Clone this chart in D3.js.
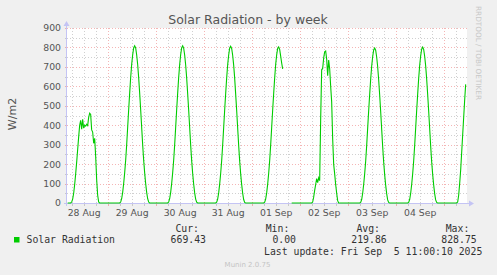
<!DOCTYPE html>
<html>
<head>
<meta charset="utf-8">
<script src="https://cdn.jsdelivr.net/npm/d3@7"></script>
<style>
  body { margin: 0; background: #f0f0f0; }
  svg { display: block; }
  text { font-family: 'DejaVu Sans', sans-serif; }
  .mono { font-family: 'DejaVu Sans Mono', monospace; font-size: 9.8px; fill: #333; white-space: pre; }
</style>
</head>
<body>
<div class="chart"></div>
<script>
// Solar Radiation - by week (munin style)

// half-hour samples, 00:00 .. 23:30 for each day (W/m2)
const aug28 = [0,0,0,0,0,0,0,0,0,0,0,0,
  5,20,50,95,150,210,275,340,400,425,380,430,
  385,400,395,405,398,440,462,455,376,365,307,333,240,120,40,5,
  0,0,0,0,0,0,0,0]
const aug29 = [0,0,0,0,0,0,0,0,0,0,0,0,
  0,5,22,55,100,155,220,300,390,480,565,645,
  712,762,797,808,797,762,712,645,565,480,390,300,220,155,100,55,
  22,5,0,0,0,0,0,0]
const aug30 = [0,0,0,0,0,0,0,0,0,0,0,0,
  0,5,22,55,100,155,220,300,390,480,565,645,
  712,763,798,808,796,761,710,643,562,478,388,298,218,152,98,52,
  20,4,0,0,0,0,0,0]
const aug31 = [0,0,0,0,0,0,0,0,0,0,0,0,
  0,4,20,52,97,152,218,298,388,478,563,643,
  711,761,796,806,795,760,709,642,560,476,386,296,216,150,96,50,
  18,3,0,0,0,0,0,0]
const sep01 = [0,0,0,0,0,0,0,0,0,0,0,0,
  0,4,20,52,97,152,218,298,388,478,563,643,
  712,762,795,803,790,755,720,690,null,null,null,null,null,null,null,null,
  0,0,0,0,0,0,0,0]
const sep02 = [0,0,0,0,0,0,0,0,0,0,0,0,
  0,5,30,65,95,125,105,130,115,430,685,692,
  745,778,782,740,655,735,690,600,520,330,200,150,95,50,12,0,
  0,0,0,0,0,0,0,0]
const sep03 = [0,0,0,0,0,0,0,0,0,0,0,0,
  0,3,18,50,95,150,215,295,385,474,558,636,
  703,752,787,797,786,751,701,634,555,471,381,291,211,146,92,48,
  16,3,0,0,0,0,0,0]
const sep04 = [0,0,0,0,0,0,0,0,0,0,0,0,
  0,3,18,50,95,150,216,296,386,476,560,640,
  707,757,791,802,790,755,705,638,558,473,383,293,212,147,93,48,
  16,3,0,0,0,0,0,0]
const sep05 = [0,0,0,0,0,0,0,0,0,0,0,0,
  0,0,5,40,100,170,260,350,440,530,610]

const days = [aug28, aug29, aug30, aug31, sep01, sep02, sep03, sep04, sep05]
const dayLabels = ['28 Aug', '29 Aug', '30 Aug', '31 Aug', '01 Sep', '02 Sep', '03 Sep', '04 Sep']
const yTicks = [0, 100, 200, 300, 400, 500, 600, 700, 800, 900]

const legendHeads = ['Cur:', 'Min:', 'Avg:', 'Max:']
const legendValues = ['669.43', '0.00', '219.86', '828.75']

const firstDay = Date.UTC(2025, 7, 28)
const start = new Date(Date.UTC(2025, 7, 28, 3, 40))
const end = new Date(Date.UTC(2025, 8, 5, 11, 40))

const width = 497
const height = 275
const plot = {left: 67, right: 467, top: 28, bottom: 203}

const svg = d3.select('.chart')
  .append('svg')
  .attr('width', width)
  .attr('height', height)

svg.append('rect')
  .attr('width', width).attr('height', height)
  .attr('fill', '#f0f0f0')

svg.append('rect')
  .attr('x', plot.left).attr('y', plot.top)
  .attr('width', plot.right - plot.left).attr('height', plot.bottom - plot.top)
  .attr('fill', '#ffffff')

const xScale = d3.scaleUtc().domain([start, end]).range([plot.left, plot.right])
const yScale = d3.scaleLinear().domain([0, 900]).range([plot.bottom, plot.top])

// build points
const points = []
days.forEach((vals, di) => {
  vals.forEach((v, i) => {
    const t = new Date(firstDay + di * 864e5 + i * 18e5)
    if (t >= start && t <= end) points.push({t: t, v: v})
  })
})

// grid
const minorY = d3.range(50, 900, 100)
const hours6 = d3.utcHour.every(6).range(start, end).filter(d => d.getUTCHours() !== 0)
const midnights = d3.utcDay.range(start, end)

const grid = svg.append('g').attr('shape-rendering', 'crispEdges')
const minorCol = 'rgba(150,150,150,0.45)'
const majorCol = 'rgba(230,90,90,0.45)'

grid.selectAll('.ymin').data(minorY).enter().append('line')
  .attr('x1', plot.left).attr('x2', plot.right)
  .attr('y1', d => Math.round(yScale(d)) + 0.5).attr('y2', d => Math.round(yScale(d)) + 0.5)
  .attr('stroke', minorCol).attr('stroke-dasharray', '1,2')
grid.selectAll('.xmin').data(hours6).enter().append('line')
  .attr('x1', d => Math.round(xScale(d)) + 0.5).attr('x2', d => Math.round(xScale(d)) + 0.5)
  .attr('y1', plot.top).attr('y2', plot.bottom)
  .attr('stroke', minorCol).attr('stroke-dasharray', '1,2')
grid.selectAll('.ymaj').data(yTicks.slice(1)).enter().append('line')
  .attr('x1', plot.left).attr('x2', plot.right)
  .attr('y1', d => Math.round(yScale(d)) + 0.5).attr('y2', d => Math.round(yScale(d)) + 0.5)
  .attr('stroke', majorCol).attr('stroke-dasharray', '1,2')
grid.selectAll('.xmaj').data(midnights).enter().append('line')
  .attr('x1', d => Math.round(xScale(d)) + 0.5).attr('x2', d => Math.round(xScale(d)) + 0.5)
  .attr('y1', plot.top).attr('y2', plot.bottom)
  .attr('stroke', majorCol).attr('stroke-dasharray', '1,2')

// small ticks at the axes
grid.selectAll('.ytk').data(yTicks.concat(minorY)).enter().append('line')
  .attr('x1', plot.left - 2).attr('x2', plot.left)
  .attr('y1', d => Math.round(yScale(d)) + 0.5).attr('y2', d => Math.round(yScale(d)) + 0.5)
  .attr('stroke', d => d % 100 === 0 ? majorCol : minorCol)
grid.selectAll('.xtk').data(hours6.concat(midnights)).enter().append('line')
  .attr('x1', d => Math.round(xScale(d)) + 0.5).attr('x2', d => Math.round(xScale(d)) + 0.5)
  .attr('y1', plot.bottom).attr('y2', plot.bottom + 3)
  .attr('stroke', d => d.getUTCHours() === 0 ? majorCol : minorCol)

// axes lines + arrows
const axisCol = '#c4c4f4'
svg.append('line')
  .attr('x1', plot.left - 3).attr('x2', plot.right + 3)
  .attr('y1', plot.bottom + 0.5).attr('y2', plot.bottom + 0.5)
  .attr('stroke', axisCol)
svg.append('line')
  .attr('x1', plot.left - 0.5).attr('x2', plot.left - 0.5)
  .attr('y1', plot.bottom + 3).attr('y2', plot.top - 4)
  .attr('stroke', axisCol)
svg.append('path')
  .attr('d', `M${plot.right + 2},${plot.bottom - 2.5}L${plot.right + 7},${plot.bottom + 0.5}L${plot.right + 2},${plot.bottom + 3.5}Z`)
  .attr('fill', axisCol)
svg.append('path')
  .attr('d', `M${plot.left - 3.5},${plot.top - 2}L${plot.left - 0.5},${plot.top - 7}L${plot.left + 2.5},${plot.top - 2}Z`)
  .attr('fill', axisCol)

// y tick labels
const yAxis = d3.axisLeft(yScale).tickValues(yTicks).tickSize(0).tickPadding(0)
const yg = svg.append('g')
  .attr('transform', 'translate(' + (plot.left - 6) + ',0)')
  .call(yAxis)
yg.select('.domain').remove()
yg.selectAll('text')
  .attr('font-family', 'DejaVu Sans, sans-serif')
  .attr('font-size', '9.3px')
  .attr('fill', '#555')

// x tick labels at noon
const noons = dayLabels.map((l, i) => new Date(firstDay + i * 864e5 + 12 * 36e5))
const xAxis = d3.axisBottom(xScale).tickValues(noons).tickSize(0).tickPadding(0)
  .tickFormat((d, i) => dayLabels[i])
const xg = svg.append('g')
  .attr('transform', 'translate(0,' + (plot.bottom + 6) + ')')
  .call(xAxis)
xg.select('.domain').remove()
xg.selectAll('text')
  .attr('font-family', 'DejaVu Sans, sans-serif')
  .attr('font-size', '9.3px')
  .attr('fill', '#555')

// the series
const line = d3.line()
  .defined(d => d.v !== null)
  .x(d => xScale(d.t))
  .y(d => yScale(d.v))

svg.append('path')
  .datum(points)
  .attr('d', line)
  .attr('fill', 'none')
  .attr('stroke', '#00cc00')
  .attr('stroke-width', 1.1)

// title and labels
svg.append('text')
  .attr('x', 248).attr('y', 24)
  .attr('text-anchor', 'middle')
  .attr('font-size', '12.5px')
  .attr('fill', '#555')
  .text('Solar Radiation - by week')

svg.append('text')
  .attr('transform', 'translate(15.5,114) rotate(-90)')
  .attr('text-anchor', 'middle')
  .attr('font-size', '11px')
  .attr('fill', '#555')
  .text('W/m2')

svg.append('text')
  .attr('transform', 'translate(476,53) rotate(90)')
  .attr('text-anchor', 'middle')
  .attr('font-size', '7.3px')
  .attr('fill', '#c8c8c8')
  .text('RRDTOOL / TOBI OETIKER')

// legend
svg.append('rect')
  .attr('x', 14).attr('y', 237).attr('width', 5.5).attr('height', 5.5)
  .attr('fill', '#00cc00')
svg.append('text').attr('class', 'mono')
  .attr('x', 26.5).attr('y', 243)
  .text('Solar Radiation')

const headX = [199, 289.3, 380, 469.3]
const valX = [206, 296, 386.7, 476.7]
svg.selectAll('.head').data(legendHeads).enter().append('text')
  .attr('class', 'mono')
  .attr('x', (d, i) => headX[i]).attr('y', 231.5)
  .attr('text-anchor', 'end')
  .text(d => d)
svg.selectAll('.val').data(legendValues).enter().append('text')
  .attr('class', 'mono')
  .attr('x', (d, i) => valX[i]).attr('y', 243)
  .attr('text-anchor', 'end')
  .text(d => d)

svg.append('text').attr('class', 'mono')
  .attr('x', 482.3).attr('y', 254.5)
  .attr('text-anchor', 'end')
  .text('Last update: Fri Sep  5 11:00:10 2025')

svg.append('text')
  .attr('x', 247.5).attr('y', 267)
  .attr('text-anchor', 'middle')
  .attr('font-size', '7px')
  .attr('fill', '#c4c4c4')
  .text('Munin 2.0.75')
</script>
</body>
</html>
